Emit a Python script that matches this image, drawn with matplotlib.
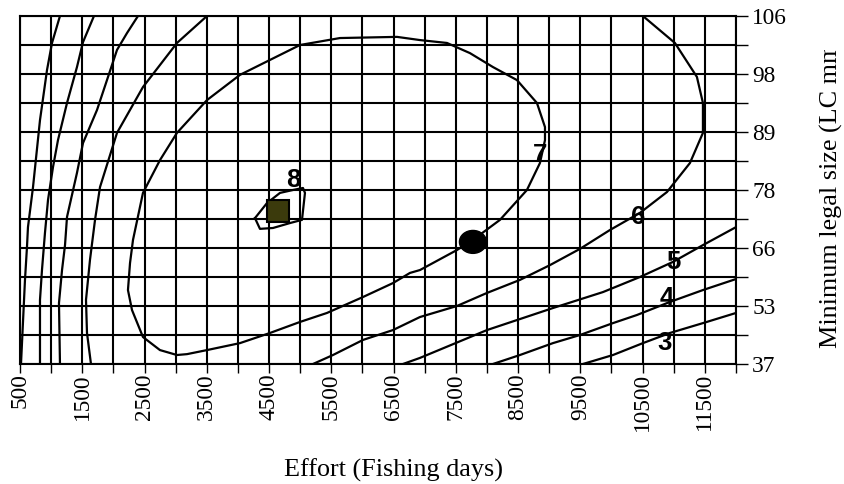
import matplotlib
matplotlib.use("Agg")
import matplotlib.pyplot as plt
from matplotlib.patches import Ellipse
from matplotlib.transforms import Bbox, TransformedBbox

# 分类轴：捕捞努力量（每 500 一格）与最小合法尺寸（等距分类）
effort_cats = [500, 1000, 1500, 2000, 2500, 3000, 3500, 4000, 4500, 5000, 5500, 6000,
               6500, 7000, 7500, 8000, 8500, 9000, 9500, 10000, 10500, 11000, 11500, 12000]
effort_labels = ["500", "", "1500", "", "2500", "", "3500", "", "4500", "", "5500", "",
                 "6500", "", "7500", "", "8500", "", "9500", "", "10500", "", "11500", ""]
size_labels = ["37", "", "53", "", "66", "", "78", "", "89", "", "98", "", "106"]

# 等值线（x = 努力量, y = 尺寸分类位置 0..12）
c3_left_x = [1142, 1014, 934, 821, 709, 628, 612, 580, 516]
c3_left_y = [12.0, 11.07, 10.14, 8.41, 6.10, 4.72, 4.03, 2.90, 0.0]
c3_right_x = [9542, 10024, 10505, 10939, 11469, 12000]
c3_right_y = [0.0, 0.31, 0.72, 1.07, 1.41, 1.76]

c4_left_x = [1688, 1512, 1415, 1255, 1110, 1030, 950, 901, 853, 821, 821]
c4_left_y = [12.0, 11.1, 10.24, 9.0, 7.72, 6.79, 5.66, 4.52, 3.24, 2.21, 0.0]
c4_right_x = [8096, 8530, 9060, 9494, 10024, 10409, 10939, 11469, 12000]
c4_right_y = [0.0, 0.31, 0.72, 1.0, 1.41, 1.69, 2.14, 2.55, 2.93]

c5_left_x = [2395, 2218, 2058, 1897, 1737, 1512, 1415, 1255, 1223, 1175, 1126, 1142]
c5_left_y = [12.0, 11.41, 10.83, 9.79, 8.76, 7.62, 6.59, 5.07, 4.10, 3.24, 2.10, 0.0]
c5_right_x = [6651, 6924, 8000, 8530, 9060, 9863, 10457, 10987, 11469, 12000]
c5_right_y = [0.0, 0.21, 1.17, 1.55, 1.93, 2.48, 3.0, 3.52, 4.10, 4.72]

c6_left_x = [3503, 3021, 2748, 2475, 2058, 1785, 1705, 1624, 1560, 1576, 1640]
c6_left_y = [12.0, 11.07, 10.31, 9.55, 7.97, 6.10, 4.97, 3.59, 2.21, 1.07, 0.0]
c6_right_x = [10505, 11019, 11372, 11469, 11469, 11260, 10891, 10457, 9975, 9494,
              9012, 8530, 8000, 7518, 6924, 6490, 6009, 5527, 5206]
c6_right_y = [12.0, 11.07, 9.90, 9.0, 7.97, 6.93, 5.93, 5.21, 4.62, 3.97,
              3.41, 2.90, 2.45, 2.0, 1.62, 1.17, 0.83, 0.31, 0.0]

c7_x = [7775, 8209, 8642, 8851, 8932, 8932, 8803, 8482, 8096, 7727, 7358, 6924, 6555,
        5639, 4997, 4033, 3503, 3021, 2748, 2475, 2315, 2267, 2234, 2299, 2475, 2748,
        3021, 3182, 3503, 4033, 4515, 4997, 5430, 6009, 6490, 6763, 6924, 7518, 7775]
c7_y = [4.28, 4.97, 6.0, 6.93, 7.72, 8.17, 9.0, 9.79, 10.24, 10.72, 11.07, 11.17, 11.28,
        11.24, 11.0, 9.97, 9.10, 7.97, 7.03, 5.90, 4.28, 3.48, 2.55, 1.86, 0.93, 0.48,
        0.31, 0.34, 0.48, 0.72, 1.07, 1.45, 1.76, 2.31, 2.79, 3.14, 3.24, 3.93, 4.28]

c8_x = [4274, 4467, 4676, 4884, 5045, 5077, 5029, 4836, 4563, 4354, 4274]
c8_y = [5.03, 5.55, 5.90, 6.0, 6.07, 5.90, 4.97, 4.86, 4.69, 4.66, 5.03]

# 等值线标注
level_text = ["8", "7", "6", "5", "4", "3"]
level_x = [4884, 8851, 10425, 10987, 10891, 10859]
level_y = [6.34, 7.21, 5.07, 3.52, 2.28, 0.72]

# 当前点与最优点
square_pt = (4643, 5.28)
circle_pt = (7775, 4.21)

serif = "Liberation Serif"

fig = plt.figure(figsize=(8.44, 4.84), dpi=100)
ax = fig.add_axes([20 / 844, 120 / 484, 716 / 844, 348 / 484])

ax.set_xlim(effort_cats[0], effort_cats[-1])
ax.set_ylim(0, len(size_labels) - 1)

ax.set_xticks(effort_cats)
ax.set_xticklabels(effort_labels, rotation=90, fontfamily=serif, fontsize=16.8)
ax.set_yticks(range(len(size_labels)))
ax.set_yticklabels(size_labels, fontfamily=serif, fontsize=16.8)
ax.yaxis.tick_right()
ax.tick_params(axis="x", direction="out", length=6.5, width=1.0, pad=0)
ax.tick_params(axis="y", direction="out", length=8.6, width=1.0, pad=3)

ax.grid(True, color="black", linewidth=1.5)
ax.set_axisbelow(True)
for sp in ax.spines.values():
    sp.set_linewidth(1.5)

lines = [(c3_left_x, c3_left_y), (c3_right_x, c3_right_y),
         (c4_left_x, c4_left_y), (c4_right_x, c4_right_y),
         (c5_left_x, c5_left_y), (c5_right_x, c5_right_y),
         (c6_left_x, c6_left_y), (c6_right_x, c6_right_y),
         (c7_x, c7_y), (c8_x, c8_y)]
for xs, ys in lines:
    ax.plot(xs, ys, color="black", linewidth=1.6, clip_on=True)

for t, x, y in zip(level_text, level_x, level_y):
    ax.text(x, y, t, ha="center", va="center", fontsize=18.5, fontweight="bold",
            fontfamily="Liberation Sans", color="black")

ax.plot(square_pt[0], square_pt[1], marker="s", markersize=16, color="#3b3a0c",
        markeredgecolor="black", markeredgewidth=1.5, zorder=5)
ax.add_patch(Ellipse(circle_pt, width=434, height=0.79, color="black", zorder=5))

fig.text(394 / 844, 7 / 484, "Effort (Fishing days)", ha="center", va="baseline",
         fontfamily=serif, fontsize=18.8)
ylab = fig.text(831 / 844, 136 / 484, "Minimum legal size (LC mm)", rotation=90,
                ha="center", va="bottom", fontfamily=serif, fontsize=18.8)
ylab.set_clip_box(TransformedBbox(Bbox([[0, 0], [1, 434 / 484]]), fig.transFigure))
ylab.set_clip_on(True)

fig.savefig("out.png", dpi=100)
